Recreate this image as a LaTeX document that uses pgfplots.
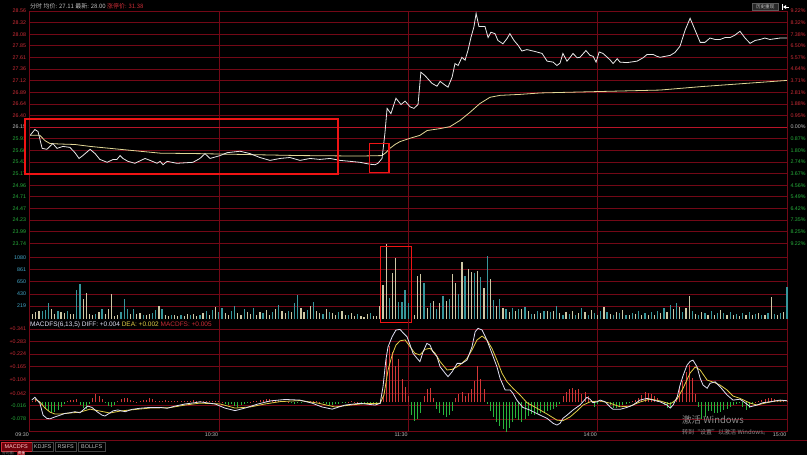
\documentclass[border=0pt]{standalone}
\usepackage{fontspec}
\setmainfont{Liberation Sans}
\newfontfamily\cjk{Noto Sans CJK SC}
\usepackage{pgfplots}
\pgfplotsset{compat=1.18}
\usepackage{pgfplotstable}

\definecolor{gridred}{RGB}{115,8,22}
\definecolor{zerored}{RGB}{185,20,40}
\definecolor{upred}{RGB}{205,45,55}
\definecolor{dngreen}{RGB}{40,175,60}
\definecolor{pricewhite}{RGB}{232,232,232}
\definecolor{avgyellow}{RGB}{225,215,150}
\definecolor{volteal}{RGB}{55,150,155}
\definecolor{volcream}{RGB}{205,200,165}
\definecolor{vollabel}{RGB}{70,170,205}
\definecolor{diffc}{RGB}{225,225,245}
\definecolor{deac}{RGB}{225,205,70}
\definecolor{histred}{RGB}{210,55,55}
\definecolor{histgreen}{RGB}{40,180,60}
\definecolor{boxred}{RGB}{240,20,20}
\definecolor{txtgrey}{RGB}{190,190,190}
\definecolor{wmgrey}{RGB}{140,140,140}

\pgfplotsset{
  panel/.style={
    scale only axis, width=757.5pt, xmin=0, xmax=240,
    anchor=north west, clip=false,
    axis line style={draw=none}, major tick length=0pt,
    xtick={0,60,120,180,240}, xmajorgrids, ymajorgrids,
    major grid style={gridred, line width=0.7pt},
    tick label style={font=\fontsize{5.3}{6}\selectfont},
    /pgf/number format/assume math mode=true,
  }
}

\pgfplotstableread{
m v c
1 88 1
2 116 1
3 134 1
4 131 0
5 152 0
6 276 0
7 159 1
8 76 1
9 130 0
10 116 1
11 100 1
12 134 0
13 76 1
14 76 1
15 512 0
16 606 0
17 353 1
18 453 1
19 76 1
20 60 1
21 88 0
22 116 1
23 159 0
24 76 1
25 159 1
26 432 1
27 40 1
28 60 1
29 116 0
30 353 0
31 171 0
32 88 1
33 171 0
34 76 1
35 100 1
36 60 0
37 60 1
38 76 1
39 100 0
40 147 0
41 218 1
42 171 0
43 60 1
44 40 1
45 60 0
46 60 1
47 40 1
48 60 0
49 40 1
50 76 1
51 55 0
52 76 1
53 40 1
54 60 0
55 90 1
56 130 0
57 70 1
58 150 0
59 210 1
60 120 0
61 180 0
62 90 1
63 60 1
64 140 0
65 220 0
66 100 1
67 70 1
68 160 0
69 110 1
70 80 1
71 190 0
72 60 1
73 120 1
74 90 0
75 150 1
76 70 1
77 110 0
78 160 1
79 240 0
80 130 1
81 90 1
82 140 0
83 110 1
84 280 0
85 420 0
86 190 1
87 120 1
88 150 0
89 220 1
90 300 0
91 140 1
92 100 1
93 80 0
94 170 1
95 120 0
96 90 1
97 60 1
98 110 0
99 140 1
100 70 1
101 60 0
102 90 1
103 50 1
104 80 0
105 40 1
106 35 1
107 75 1
108 93 0
109 40 1
110 40 1
111 220 1
112 600 1
113 1320 1
114 370 0
115 810 1
116 1060 1
117 283 0
118 293 0
119 505 0
120 270 0
121 940 1
122 55 1
123 750 1
124 780 1
125 623 0
126 190 1
127 270 0
128 310 1
129 175 0
130 270 1
131 400 0
132 305 1
133 350 0
134 780 1
135 630 1
136 425 0
137 990 1
138 750 0
139 870 1
140 820 1
141 810 0
142 840 1
143 725 0
144 530 1
145 1100 0
146 705 1
147 330 0
148 225 1
149 340 0
150 190 1
151 165 0
152 115 1
153 190 0
154 130 1
155 165 0
156 175 1
157 210 0
158 130 1
159 75 0
160 75 1
161 130 0
162 100 1
163 130 0
164 130 1
165 115 0
166 130 1
167 225 0
168 90 1
169 60 0
170 110 1
171 80 0
172 140 1
173 60 0
174 100 1
175 180 0
176 120 1
177 70 0
178 150 1
179 90 0
180 60 1
181 130 0
182 200 1
183 110 0
184 80 1
185 60 0
186 120 1
187 90 0
188 150 1
189 70 0
190 60 1
191 100 0
192 80 1
193 130 0
194 60 1
195 90 0
196 70 1
197 110 0
198 60 1
199 140 0
200 90 1
201 180 0
202 120 1
203 230 0
204 160 1
205 280 0
206 200 1
207 120 0
208 180 1
209 400 1
210 140 0
211 80 1
212 60 0
213 110 1
214 90 0
215 70 1
216 130 0
217 60 1
218 90 0
219 150 1
220 100 0
221 70 1
222 110 0
223 60 1
224 80 0
225 50 1
226 90 0
227 70 1
228 110 0
229 60 1
230 80 0
231 100 1
232 70 0
233 60 1
234 90 0
235 380 1
236 80 0
237 60 1
238 100 0
239 120 1
240 560 0
}\voltable

\begin{document}
\begin{tikzpicture}
\useasboundingbox (0pt,0pt) rectangle (807pt,-455pt);
\fill[black] (0pt,0pt) rectangle (807pt,-455pt);

% ---------- price panel ----------
\begin{axis}[panel, at={(29.5pt,-11pt)}, height=232.3pt,
  ymin=23.7388, ymax=28.5612, xticklabel={},
  ytick={23.7388,23.98,24.221,24.4622,24.7033,24.9444,25.1855,25.4266,25.6678,25.9089,26.15,26.3911,26.6322,26.8734,27.1145,27.3556,27.5967,27.8378,28.079,28.3201,28.5612},
  yticklabels={{\color{dngreen}23.74},{\color{dngreen}23.99},{\color{dngreen}24.23},{\color{dngreen}24.47},{\color{dngreen}24.71},{\color{dngreen}24.96},{\color{dngreen}25.17},{\color{dngreen}25.42},{\color{dngreen}25.66},{\color{dngreen}25.91},{\color{txtgrey}26.15},{\color{upred}26.40},{\color{upred}26.64},{\color{upred}26.89},{\color{upred}27.12},{\color{upred}27.36},{\color{upred}27.61},{\color{upred}27.85},{\color{upred}28.08},{\color{upred}28.32},{\color{upred}28.56}},
]
\draw[zerored, line width=1.1pt] (axis cs:0,26.15) -- (axis cs:240,26.15);
% average price
\addplot[avgyellow, line width=0.8pt] coordinates {
(0.2,25.98) (3.3,25.98) (4.9,25.87) (6.5,25.81) (9.7,25.80) (14.4,25.79) (19.2,25.75) (25.5,25.71) (31.8,25.67) (41.4,25.61) (54.0,25.60) (69.9,25.58) (85.7,25.56) (104.7,25.55) (111.7,25.56) (112.9,25.62) (114.2,25.71) (115.8,25.79) (117.4,25.85) (120.6,25.92) (123.7,25.98) (126.0,26.08) (130.1,26.12) (133.2,26.16) (136.4,26.29) (139.6,26.46) (142.7,26.64) (145.9,26.77) (149.1,26.81) (155.4,26.83) (161.8,26.86) (180.8,26.89) (199.8,26.92) (212.5,26.99) (240,27.12)
};
% last price
\addplot[pricewhite, line width=0.8pt] coordinates {
(0.2,25.98) (1.7,26.10) (2.7,26.06) (4.0,25.71) (5.5,25.69) (7.4,25.81) (8.7,25.71) (10.6,25.75) (12.8,25.73) (14.4,25.62) (15.7,25.50) (16.9,25.56) (19.2,25.69) (20.8,25.60) (22.3,25.48) (24.6,25.42) (26.5,25.48) (27.7,25.48) (28.7,25.56) (29.6,25.50) (31.2,25.44) (33.4,25.40) (36.6,25.50) (38.2,25.46) (40.4,25.40) (41.4,25.44) (42.3,25.37) (43.6,25.44) (46.7,25.40) (51.8,25.42) (54.0,25.50) (55.6,25.60) (57.2,25.50) (60.4,25.56) (62.6,25.62) (66.7,25.65) (69.9,25.60) (73.0,25.52) (76.2,25.46) (79.4,25.50) (82.5,25.52) (85.7,25.46) (88.9,25.50) (92.0,25.48) (95.2,25.50) (98.4,25.46) (101.6,25.44) (104.7,25.42) (107.9,25.38) (109.5,25.37) (110.4,25.40) (111.7,25.50) (112.6,26.02) (113.3,26.54) (114.5,26.43) (116.1,26.75) (117.7,26.62) (119.0,26.69) (120.6,26.57) (121.8,26.54) (123.1,26.62) (124.0,27.29) (125.3,27.22) (127.5,27.06) (129.1,27.00) (130.1,27.10) (131.7,27.02) (132.6,26.98) (133.9,27.19) (134.8,27.47) (135.8,27.43) (137.0,27.60) (138.0,27.54) (138.9,27.74) (139.9,28.02) (140.8,28.23) (141.5,28.51) (142.4,28.24) (144.3,28.24) (145.3,28.01) (146.2,28.12) (147.5,28.09) (148.4,27.95) (150.0,27.88) (151.3,27.99) (152.2,28.09) (153.5,27.95) (154.8,27.85) (156.0,27.73) (157.6,27.76) (160.2,27.72) (162.4,27.68) (164.0,27.52) (165.9,27.50) (167.1,27.43) (168.1,27.48) (169.0,27.68) (170.3,27.52) (171.3,27.60) (172.2,27.68) (173.5,27.59) (174.4,27.60) (176.3,27.74) (177.6,27.64) (178.6,27.62) (179.5,27.50) (180.5,27.71) (181.7,27.68) (183.9,27.55) (184.9,27.47) (186.2,27.57) (187.1,27.50) (189.3,27.49) (192.5,27.52) (194.4,27.59) (195.7,27.66) (197.6,27.66) (198.8,27.62) (199.8,27.60) (201.4,27.62) (203.0,27.64) (204.5,27.70) (206.1,27.83) (207.7,28.16) (209.3,28.41) (210.9,28.16) (212.5,27.91) (214.0,27.91) (215.6,28.00) (217.2,27.97) (218.8,27.97) (220.4,28.01) (222.0,28.01) (223.5,28.06) (225.1,28.14) (226.7,28.00) (228.3,27.89) (229.9,27.95) (231.5,27.97) (233.0,28.00) (234.6,27.97) (237.8,28.00) (240,28.00)
};
\draw[boxred, line width=1.3pt] (axis cs:-1.4,26.32) rectangle (axis cs:97.7,25.18);
\draw[boxred, line width=1.3pt] (axis cs:107.7,25.805) rectangle (axis cs:113.9,25.215);
\end{axis}

% ---------- percent scale ----------
\begin{axis}[panel, at={(29.5pt,-11pt)}, height=232.3pt,
  ymin=-9.22, ymax=9.22, xmajorgrids=false, ymajorgrids=false,
  hide x axis, yticklabel pos=right,
  ytick={-9.22,-8.298,-7.376,-6.454,-5.532,-4.61,-3.688,-2.766,-1.844,-0.922,0,0.922,1.844,2.766,3.688,4.61,5.532,6.454,7.376,8.298,9.22},
  yticklabels={{\color{dngreen}9.22\%},{\color{dngreen}8.25\%},{\color{dngreen}7.35\%},{\color{dngreen}6.42\%},{\color{dngreen}5.49\%},{\color{dngreen}4.56\%},{\color{dngreen}3.67\%},{\color{dngreen}2.74\%},{\color{dngreen}1.80\%},{\color{dngreen}0.87\%},{\color{txtgrey}0.00\%},{\color{upred}0.95\%},{\color{upred}1.88\%},{\color{upred}2.81\%},{\color{upred}3.71\%},{\color{upred}4.64\%},{\color{upred}5.57\%},{\color{upred}6.50\%},{\color{upred}7.38\%},{\color{upred}8.32\%},{\color{upred}9.22\%}},
]
\addplot[draw=none] coordinates {(0,0)};
\end{axis}

% ---------- volume panel ----------
\begin{axis}[panel, at={(29.5pt,-243.3pt)}, height=75.2pt,
  ymin=0, ymax=1328, xticklabel={},
  ytick={219,430,650,861,1080}, yticklabels={219,430,650,861,1080},
  yticklabel style={text=vollabel},
]
\addplot[ycomb, volcream, line width=1.2pt, restrict expr to domain={\thisrow{c}}{0.5:1.5}] table[x=m, y=v] {\voltable};
\addplot[ycomb, volteal, line width=1.2pt, restrict expr to domain={\thisrow{c}}{-0.5:0.5}] table[x=m, y=v] {\voltable};
\draw[boxred, line width=1.3pt] (axis cs:111.3,1268) rectangle (axis cs:121.1,-74);
\end{axis}

% ---------- MACD panel ----------
\begin{axis}[panel, at={(29.5pt,-318.5pt)}, height=113.2pt,
  ymin=-0.137, ymax=0.3897,
  ytick={-0.137,-0.078,-0.016,0.042,0.104,0.165,0.224,0.283,0.341},
  yticklabels={{},{\color{dngreen}-0.078},{\color{dngreen}-0.016},{\color{upred}+0.042},{\color{upred}+0.104},{\color{upred}+0.165},{\color{upred}+0.224},{\color{upred}+0.283},{\color{upred}+0.341}},
  xticklabels={09:30,10:30,11:30,14:00,15:00},
  xticklabel style={text=txtgrey, anchor=north east, inner sep=0.6pt, yshift=-0.5pt},
]
\addplot[ycomb, histred, line width=0.8pt] coordinates {
(1,0.005) (2,0.009) (3,0.005) (12,0.006) (13,0.010) (14,0.012) (15,0.014) (20,0.020) (21,0.040) (22,0.030) (23,0.015) (28,0.005) (29,0.015) (30,0.022) (31,0.018) (32,0.010) (33,0.004) (34,0.003) (35,0.006) (36,0.010) (37,0.012) (38,0.020) (39,0.014) (40,0.008) (41,0.006) (42,0.008) (43,0.010) (44,0.006) (45,0.004) (46,0.006) (47,0.008) (48,0.005) (49,0.004) (50,0.006) (51,0.008) (52,0.010) (53,0.007) (54,0.005) (55,0.004) (56,0.004) (57,0.006) (58,0.008) (59,0.006) (60,0.004) (61,0.002) (70,0.003) (71,0.006) (72,0.008) (73,0.010) (74,0.012) (75,0.016) (76,0.014) (77,0.012) (78,0.010) (79,0.008) (80,0.006) (81,0.004) (82,0.003) (87,0.004) (88,0.006) (89,0.008) (90,0.006) (91,0.004) (92,0.003) (101,0.002) (102,0.004) (103,0.003) (104,0.002) (112,0.030) (113,0.200) (114,0.260) (115,0.235) (116,0.170) (117,0.200) (118,0.110) (119,0.070) (120,0.030) (125,0.030) (126,0.060) (127,0.065) (128,0.020) (135,0.020) (136,0.040) (137,0.050) (138,0.030) (139,0.045) (140,0.060) (141,0.100) (142,0.170) (143,0.110) (144,0.060) (169,0.030) (170,0.050) (171,0.060) (172,0.065) (173,0.055) (174,0.060) (175,0.040) (176,0.050) (177,0.030) (178,0.010) (181,0.005) (182,0.005) (191,0.005) (192,0.010) (193,0.020) (194,0.035) (195,0.050) (196,0.045) (197,0.040) (198,0.030) (199,0.020) (200,0.005) (205,0.025) (206,0.070) (207,0.100) (208,0.140) (209,0.173) (210,0.115) (211,0.040) (230,0.003) (231,0.008) (232,0.012) (233,0.015) (234,0.018) (235,0.020) (236,0.015) (237,0.012) (238,0.010) (239,0.008) (240,0.006)
};
\addplot[ycomb, histgreen, line width=0.8pt] coordinates {
(4,-0.014) (5,-0.028) (6,-0.042) (7,-0.050) (8,-0.045) (9,-0.035) (10,-0.022) (11,-0.010) (16,-0.012) (17,-0.025) (18,-0.030) (19,-0.010) (24,-0.005) (25,-0.016) (26,-0.022) (27,-0.012) (62,-0.006) (63,-0.012) (64,-0.010) (65,-0.016) (66,-0.020) (67,-0.014) (68,-0.008) (69,-0.004) (83,-0.004) (84,-0.006) (85,-0.004) (86,-0.002) (93,-0.004) (94,-0.008) (95,-0.012) (96,-0.014) (97,-0.010) (98,-0.006) (99,-0.004) (100,-0.003) (105,-0.002) (106,-0.004) (107,-0.006) (108,-0.006) (109,-0.004) (110,-0.003) (121,-0.060) (122,-0.085) (123,-0.080) (124,-0.050) (129,-0.030) (130,-0.050) (131,-0.060) (132,-0.067) (133,-0.060) (134,-0.040) (145,-0.010) (146,-0.040) (147,-0.067) (148,-0.090) (149,-0.110) (150,-0.125) (151,-0.137) (152,-0.120) (153,-0.090) (154,-0.075) (155,-0.083) (156,-0.090) (157,-0.080) (158,-0.065) (159,-0.055) (160,-0.060) (161,-0.055) (162,-0.050) (163,-0.048) (164,-0.040) (165,-0.036) (166,-0.030) (167,-0.020) (168,-0.010) (179,-0.020) (180,-0.010) (183,-0.005) (184,-0.015) (185,-0.025) (186,-0.028) (187,-0.020) (188,-0.015) (189,-0.010) (190,-0.005) (201,-0.015) (202,-0.027) (203,-0.020) (204,-0.005) (212,-0.020) (213,-0.077) (214,-0.070) (215,-0.040) (216,-0.040) (217,-0.050) (218,-0.050) (219,-0.045) (220,-0.035) (221,-0.030) (222,-0.020) (223,-0.015) (224,-0.010) (225,-0.005) (226,-0.020) (227,-0.036) (228,-0.025) (229,-0.010)
};
% DEA
\addplot[deac, line width=0.8pt] coordinates {
(1.7,0.015) (3.3,0.001) (4.9,-0.027) (6.5,-0.046) (8.1,-0.055) (9.7,-0.055) (12.8,-0.050) (16.0,-0.046) (19.2,-0.032) (22.3,-0.041) (25.5,-0.050) (28.7,-0.041) (31.8,-0.036) (38.2,-0.027) (44.5,-0.025) (49.3,-0.013) (54.0,-0.004) (60.4,-0.008) (65.1,-0.027) (69.9,-0.022) (74.6,-0.008) (79.4,0.003) (85.7,0.008) (91.4,-0.004) (96.8,-0.022) (101.6,-0.013) (106.3,-0.006) (111.1,-0.005) (112.3,0.034) (113.6,0.150) (114.9,0.220) (116.1,0.266) (117.4,0.286) (119.0,0.290) (120.6,0.258) (122.1,0.228) (123.7,0.220) (125.3,0.246) (126.9,0.251) (128.5,0.228) (130.1,0.189) (132.3,0.150) (133.9,0.153) (135.5,0.165) (137.0,0.181) (138.6,0.204) (140.2,0.243) (141.8,0.290) (143.4,0.308) (144.9,0.290) (146.5,0.251) (148.1,0.196) (149.7,0.135) (151.3,0.095) (153.2,0.065) (155.4,0.034) (157.6,-0.002) (160.8,-0.028) (164.0,-0.055) (167.1,-0.083) (169.0,-0.086) (171.3,-0.068) (173.5,-0.040) (175.4,-0.013) (177.6,0.002) (180.8,0.006) (183.9,-0.004) (187.1,-0.021) (190.3,-0.018) (193.4,0.001) (196.6,0.015) (199.8,0.006) (203.0,-0.008) (205.2,0.015) (207.1,0.066) (209.3,0.136) (210.9,0.164) (212.5,0.150) (214.7,0.103) (216.6,0.094) (218.8,0.080) (221.0,0.057) (222.9,0.029) (225.1,0.018) (228.3,-0.004) (230.5,-0.013) (233.0,-0.004) (236.2,0.006) (240,0.007)
};
% DIFF
\addplot[diffc, line width=0.8pt] coordinates {
(0.7,0.010) (1.7,0.023) (3.3,-0.005) (4.3,-0.060) (5.5,-0.075) (6.5,-0.077) (8.1,-0.068) (9.7,-0.060) (11.2,-0.052) (12.8,-0.049) (14.4,-0.044) (16.0,-0.049) (17.6,-0.028) (18.5,-0.018) (19.8,-0.024) (21.4,-0.044) (23.0,-0.060) (23.9,-0.064) (24.9,-0.055) (26.5,-0.040) (28.0,-0.036) (30.3,-0.044) (32.5,-0.033) (35.0,-0.028) (38.2,-0.024) (41.4,-0.024) (43.6,-0.028) (46.1,-0.018) (49.3,-0.008) (52.4,-0.002) (54.0,0.002) (58.8,-0.008) (61.9,-0.027) (65.1,-0.039) (68.3,-0.027) (72.4,-0.008) (76.2,0.006) (81.0,0.013) (85.7,0.010) (89.5,-0.004) (92.7,-0.022) (95.9,-0.032) (100.0,-0.013) (104.7,-0.005) (109.5,-0.013) (111.1,-0.005) (112.0,0.072) (112.9,0.196) (113.6,0.258) (114.9,0.305) (116.1,0.336) (117.4,0.339) (118.3,0.324) (119.6,0.305) (120.6,0.266) (121.5,0.228) (122.8,0.204) (123.7,0.189) (124.7,0.235) (125.9,0.274) (126.9,0.266) (127.8,0.235) (129.1,0.212) (130.1,0.165) (131.7,0.135) (132.6,0.119) (133.9,0.142) (135.5,0.181) (137.0,0.181) (138.6,0.196) (140.2,0.258) (141.2,0.328) (142.1,0.344) (143.4,0.336) (144.9,0.290) (146.5,0.228) (148.1,0.165) (149.1,0.111) (150.7,0.057) (152.3,0.057) (153.2,0.041) (154.4,0.010) (156.3,-0.024) (158.5,-0.036) (161.8,-0.060) (164.0,-0.075) (165.9,-0.098) (167.1,-0.106) (168.1,-0.098) (169.0,-0.075) (170.3,-0.060) (172.2,-0.036) (174.4,-0.013) (176.6,0.023) (177.6,0.014) (178.5,-0.002) (179.8,0.002) (180.8,0.010) (182.4,0.002) (183.9,-0.021) (184.9,-0.033) (187.1,-0.033) (189.3,-0.024) (191.2,-0.013) (193.4,0.010) (195.7,0.018) (197.6,0.010) (199.8,0.002) (202.0,-0.013) (203.0,-0.027) (203.9,-0.013) (205.2,0.024) (206.1,0.079) (207.1,0.125) (208.3,0.172) (209.3,0.190) (210.2,0.196) (211.5,0.165) (212.5,0.111) (213.4,0.080) (214.7,0.065) (215.6,0.088) (217.2,0.095) (218.8,0.072) (221.0,0.034) (222.9,0.010) (225.1,0.014) (226.7,-0.002) (228.3,-0.021) (230.5,-0.013) (232.4,-0.002) (234.6,0.002) (237.8,0.010) (240,0.007)
};
\end{axis}

% ---------- texts ----------
\node[anchor=west, inner sep=0pt, text=txtgrey, font=\cjk\fontsize{6}{7}\selectfont] at (30pt,-6pt)
  {分时 均价: 27.11 最新: 28.00 \textcolor{upred}{涨停价: 31.38}};
\node[anchor=west, inner sep=0pt, text=diffc, font=\fontsize{6.5}{7}\selectfont] at (30pt,-324.5pt)
  {MACDFS(6,13,5) DIFF: +0.004 \textcolor{deac}{DEA: +0.002} \textcolor{upred}{MACDFS: +0.005}};
% top right button
\node[anchor=north west, draw={rgb,255:red,90;green,90;blue,90}, fill={rgb,255:red,40;green,40;blue,40}, text=txtgrey, inner sep=0.6pt, minimum width=26pt, minimum height=7pt, font=\cjk\fontsize{4.6}{5}\selectfont] at (752pt,-3pt) {历史重现};
\draw[white, line width=0.7pt] (782pt,-4pt) -- (782pt,-10pt);
\fill[white] (783pt,-7pt) -- (786pt,-5pt) -- (786pt,-9pt) -- cycle;
\draw[white, line width=0.7pt] (785pt,-7pt) -- (789pt,-7pt);
% bottom bar
\draw[gridred, line width=0.8pt] (0pt,-440pt) -- (807pt,-440pt);
\node[anchor=north west, draw=upred, fill={rgb,255:red,110;green,0;blue,10}, text={rgb,255:red,255;green,200;blue,200}, inner sep=0pt, minimum width=31pt, minimum height=9pt, font=\fontsize{5.5}{6}\selectfont] at (0.5pt,-441.5pt) {MACDFS};
\node[anchor=north west, draw={rgb,255:red,70;green,70;blue,70}, text=txtgrey, inner sep=0pt, minimum width=21pt, minimum height=9pt, font=\fontsize{5.5}{6}\selectfont] at (32pt,-441.5pt) {KDJFS};
\node[anchor=north west, draw={rgb,255:red,70;green,70;blue,70}, text=txtgrey, inner sep=0pt, minimum width=21pt, minimum height=9pt, font=\fontsize{5.5}{6}\selectfont] at (55pt,-441.5pt) {RSIFS};
\node[anchor=north west, draw={rgb,255:red,70;green,70;blue,70}, text=txtgrey, inner sep=0pt, minimum width=27pt, minimum height=9pt, font=\fontsize{5.5}{6}\selectfont] at (78pt,-441.5pt) {BOLLFS};
\node[anchor=west, inner sep=0pt, text=wmgrey, font=\cjk\fontsize{3.8}{4}\selectfont] at (2pt,-453pt) {分时图};
\node[anchor=west, inner sep=0.3pt, fill={rgb,255:red,160;green,20;blue,30}, text=white, font=\cjk\fontsize{3.8}{4}\selectfont] at (17pt,-453pt) {资金};
% watermark
\node[anchor=west, inner sep=0pt, text=wmgrey, font=\cjk\fontsize{9.5}{10}\selectfont] at (682pt,-420pt) {激活 Windows};
\node[anchor=west, inner sep=0pt, text=wmgrey, font=\cjk\fontsize{6}{7}\selectfont] at (682pt,-432.5pt) {转到“设置”以激活 Windows。};
\end{tikzpicture}
\end{document}
